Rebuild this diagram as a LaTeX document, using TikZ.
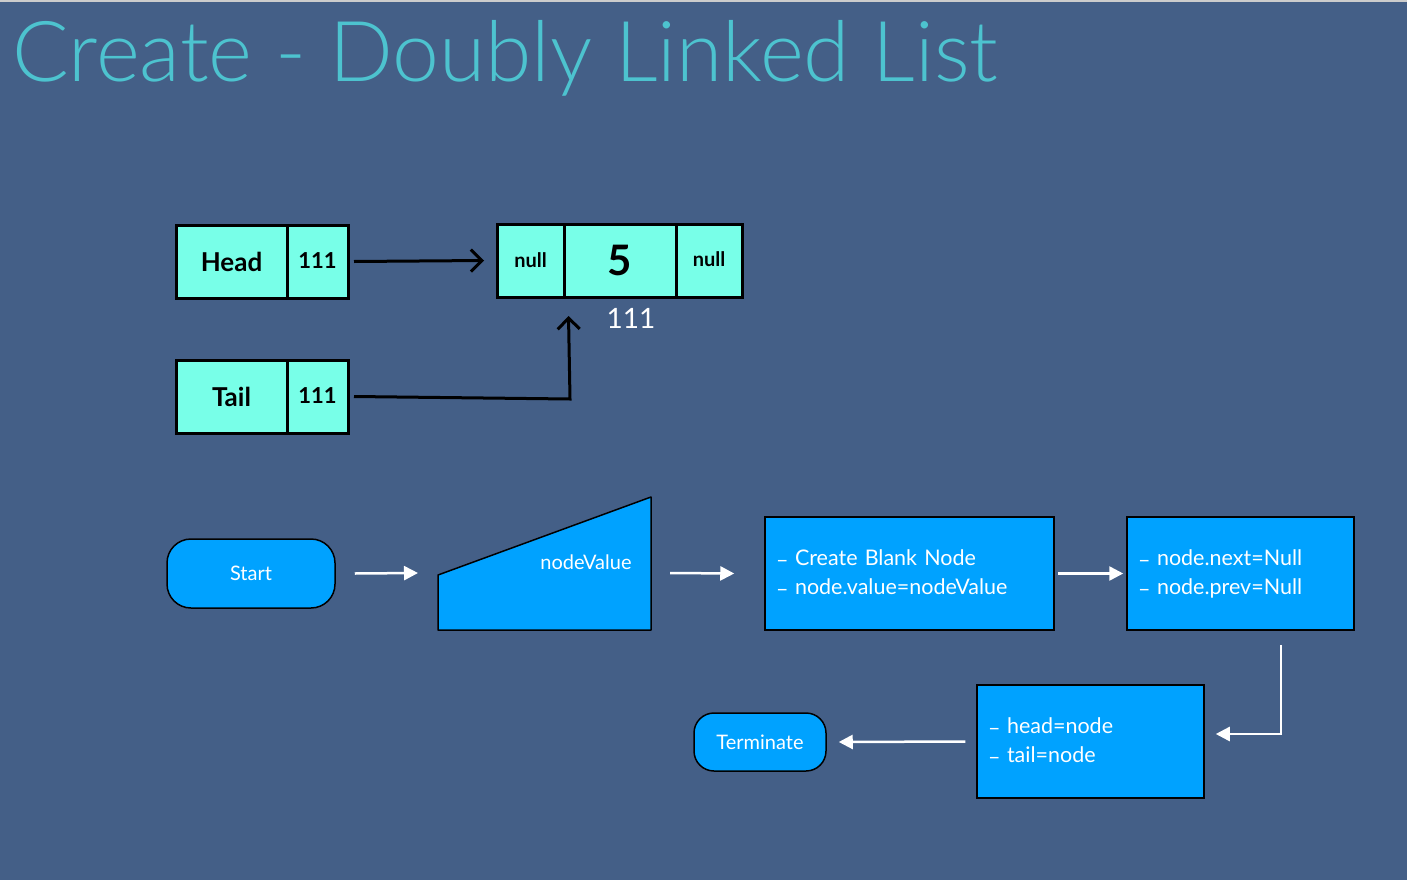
\documentclass[tikz,border=0pt]{standalone}
\usepackage{fontspec}
\setmainfont{Lato}
\newfontfamily\titlefont{Lato Light}
\usetikzlibrary{arrows.meta}
\definecolor{bgc}{HTML}{445F87}
\definecolor{titlec}{HTML}{4DC3CF}
\definecolor{cellc}{HTML}{78FFE8}
\definecolor{flowc}{HTML}{00A2FF}
\newcommand{\bul}{\makebox[19pt][l]{\raisebox{-2pt}{–}}}
\begin{document}
\begin{tikzpicture}[x=1pt,y=-1pt,
  cell/.style={draw=black, line width=3pt, fill=cellc, inner sep=0pt, font=\bfseries\fontsize{22}{24}\selectfont},
  blk/.style={draw=black, line width=3pt, -{Straight Barb[length=11pt,width=22pt,line width=3pt]}},
  wht/.style={draw=white, line width=2.5pt, -{Triangle[length=14pt,width=14pt]}},
  term/.style={draw=black, line width=1.5pt, fill=flowc, rounded corners=24pt, text=white, font=\fontsize{20}{24}\selectfont},
  proc/.style={draw=black, line width=1.5pt, fill=flowc, text=white, align=left, inner xsep=11pt, font=\fontsize{21.5}{29}\selectfont}]
\useasboundingbox (0,0) rectangle (1407,880);
\fill[bgc] (0,0) rectangle (1407,880);
\fill[black!20] (0,0) rectangle (1407,2);
\node[anchor=base west, text=titlec, inner sep=0pt, font=\titlefont\fontsize{84}{86}\selectfont] (title) at (12,82) {Create - Doubly Linked List};
% linked list cells
\node[cell, minimum width=111pt, minimum height=73pt, font=\bfseries\fontsize{26}{28}\selectfont] (headL) at (231.5,261.5) {Head};
\node[cell, minimum width=61pt, minimum height=73pt] (headR) at (317.5,261.5) {\raisebox{2pt}{111}};
\node[cell, minimum width=111pt, minimum height=73pt, font=\bfseries\fontsize{26}{28}\selectfont] (tailL) at (231.5,396.5) {Tail};
\node[cell, minimum width=61pt, minimum height=73pt] (tailR) at (317.5,396.5) {\raisebox{2pt}{111}};
\node[cell, minimum width=67pt, minimum height=73pt, font=\bfseries\fontsize{20}{22}\selectfont] (nullL) at (530.5,260.5) {null};
\node[cell, minimum width=112pt, minimum height=73pt, font=\bfseries\fontsize{42}{44}\selectfont] (val) at (620,260.5) {5};
\node[cell, minimum width=66pt, minimum height=73pt, font=\bfseries\fontsize{20}{22}\selectfont] (nullR) at (709,260.5) {\raisebox{3pt}{null}};
\node[text=white, font=\fontsize{28}{30}\selectfont] (addr) at (631,318) {111};
\draw[blk] ([xshift=4.5pt]headR.east) -- ([xshift=-11.5pt]nullL.west);
\coordinate (tbend) at (570,399);
\draw[blk] ([xshift=4.5pt]tailR.east) -- (tbend) -- ([xshift=6pt,yshift=-17.5pt]val.south west);
% flowchart
\node[term, minimum width=168pt, minimum height=69pt] (start) at (251,573.5) {Start};
\coordinate (inW) at (438,573);
\coordinate (inE) at (651,573);
\draw[black, line width=1.5pt, fill=flowc, line join=round] (438,575) -- (651,497) -- (651,630) -- (438,630) -- cycle;
\node[text=white, font=\fontsize{20}{24}\selectfont] (inval) at (586,562) {nodeValue};
\node[proc, minimum width=289pt, minimum height=113pt, text width=267pt] (box1) at (909.5,573.5)
  {\bul Create Blank Node\\\bul node.value=nodeValue};
\node[proc, minimum width=227pt, minimum height=113pt, text width=205pt] (box2) at (1240.5,573.5)
  {\bul node.next=Null\\\bul node.prev=Null};
\node[proc, minimum width=227pt, minimum height=113pt, text width=205pt] (box3) at (1090.5,741.5)
  {\bul head=node\\\bul tail=node};
\node[term, minimum width=132pt, minimum height=58pt, rounded corners=20pt] (termn) at (760,742) {Terminate};
\draw[wht] ([xshift=19pt]start.east) -- ([xshift=-20pt]inW);
\draw[wht] ([xshift=19pt]inE) -- ([xshift=-30pt]box1.west);
\draw[wht] ([xshift=3pt]box1.east) -- ([xshift=-3pt]box2.west);
\draw[wht] ([xshift=40.5pt,yshift=-14pt]box2.south) |- ([xshift=11pt,yshift=7.5pt]box3.east);
\draw[wht] ([xshift=-11pt]box3.west) -- ([xshift=12pt]termn.east);
\end{tikzpicture}
\end{document}
